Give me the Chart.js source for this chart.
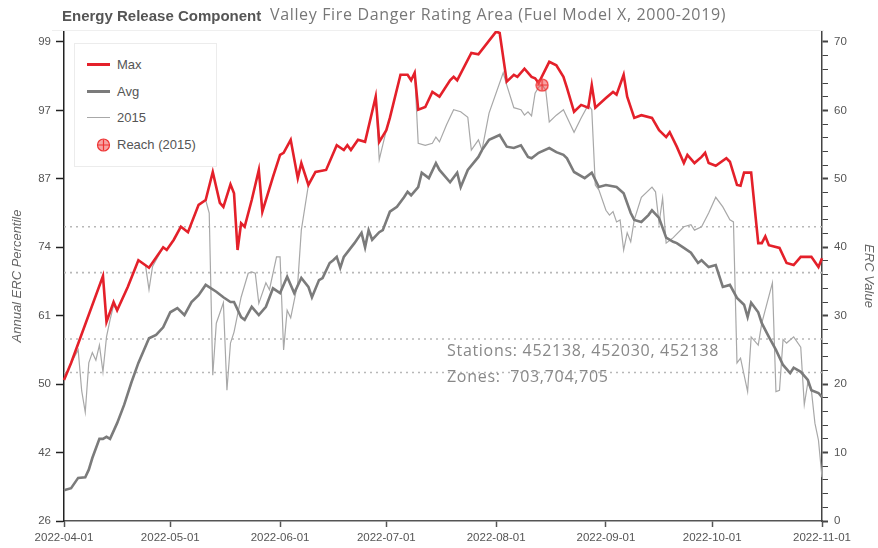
<!DOCTYPE html>
<html>
<head>
<meta charset="utf-8">
<title>Energy Release Component</title>
<script src="https://cdn.jsdelivr.net/npm/chart.js@4.4.1/dist/chart.umd.min.js"></script>
<style>
  html, body { margin: 0; padding: 0; background: #fff; }
  #wrap { position: relative; width: 878px; height: 548px; font-family: "Liberation Sans", Arial, sans-serif; }
  #ercChart { position: absolute; left: 0; top: 0; }
  .title-main { position: absolute; left: 62px; top: 7px; font-size: 15px; font-weight: bold; color: #555; white-space: nowrap; }
  .title-sub { position: absolute; left: 270px; top: 3px; font-family: "Open Sans", sans-serif; font-size: 16px; letter-spacing: 0.65px; color: #777; white-space: nowrap; }
  .top-rule { position: absolute; left: 52px; top: 30px; width: 772px; border-top: 1px solid #efefef; }
  .note { position: absolute; left: 447px; font-family: "Open Sans", sans-serif; font-size: 16px; letter-spacing: 0.7px; color: #888; white-space: nowrap; }
  .legend { position: absolute; left: 74px; top: 43px; width: 143px; height: 124px; background: #fff; border: 1px solid #ececec; box-sizing: border-box; }
  .legend .row { position: absolute; left: 12px; height: 16px; font-size: 13px; color: #555; line-height: 16px; }
  .legend .swatch { position: absolute; left: 0; top: 7px; width: 23px; }
  .legend .label { position: absolute; left: 30px; top: 0; white-space: nowrap; }
</style>
</head>
<body>
<div id="wrap">
  <canvas id="ercChart" width="878" height="548"></canvas>
  <div class="top-rule"></div>
  <div class="title-main">Energy Release Component</div>
  <div class="title-sub">Valley Fire Danger Rating Area (Fuel Model X, 2000-2019)</div>
  <div class="note" style="top:339px;">Stations: 452138, 452030, 452138</div>
  <div class="note" style="top:365px;">Zones:&nbsp; 703,704,705</div>
  <div class="legend">
    <div class="row" style="top:13px;"><span class="swatch" style="border-top:3px solid #e4202a;top:6px;"></span><span class="label">Max</span></div>
    <div class="row" style="top:40px;"><span class="swatch" style="border-top:3px solid #7b7b7b;top:6px;"></span><span class="label">Avg</span></div>
    <div class="row" style="top:66px;"><span class="swatch" style="border-top:1px solid #a8a8a8;top:7px;"></span><span class="label">2015</span></div>
    <div class="row" style="top:93px;">
      <svg class="swatch" style="top:1px;left:5px;" width="14" height="14" viewBox="0 0 14 14">
        <circle cx="7" cy="7" r="6" fill="rgba(240,90,90,0.55)" stroke="#e33" stroke-width="1.2"/>
        <path d="M7 1.5V12.5M1.5 7H12.5" stroke="#e33" stroke-width="1.2"/>
      </svg>
      <span class="label">Reach (2015)</span>
    </div>
  </div>
</div>
<script>
// x positions are days since 2022-04-01
const monthDays = [0, 30, 61, 91, 122, 153, 183, 214];
const monthLabels = ['2022-04-01', '2022-05-01', '2022-06-01', '2022-07-01', '2022-08-01', '2022-09-01', '2022-10-01', '2022-11-01'];

// left axis shows the percentile matching each ERC value tick
const percentileTicks = [0, 10, 20, 30, 40, 50, 60, 70];
const percentileLabels = ['26', '42', '50', '61', '74', '87', '97', '99'];

const maxDays = [0, 2, 11, 12, 14, 15, 18, 21, 24, 28, 29, 31, 33, 35, 38, 40, 42, 44, 45, 47, 48, 49, 50, 51, 53, 55, 56, 59, 61, 62,
  64, 66, 67, 69, 71, 74, 77, 79, 80, 81, 83, 85, 88, 89, 91, 92, 95, 97, 98, 99, 100, 102, 104, 106, 109, 110, 111, 115, 117, 122,
  123, 125, 127, 128, 130, 132, 133, 134, 137, 139, 141, 142, 144, 146, 148, 149, 150, 153, 155, 156, 158, 159, 161, 163, 166, 168, 170, 171, 173, 175,
  176, 178, 180, 181, 182, 184, 187, 188, 190, 191, 192, 194, 196, 197, 198, 199, 202, 204, 206, 208, 211, 213, 214];
const maxVals = [20.6, 23.1, 35.8, 29.1, 32.0, 30.8, 34.2, 38.1, 37.0, 40.0, 39.6, 41.1, 43.0, 42.2, 46.2, 46.9, 51.0, 46.5, 45.9, 49.2, 47.9, 39.6, 43.5, 43.0, 46.9, 51.3, 45.2, 50.3, 53.5, 53.8,
  55.7, 50.1, 52.3, 49.1, 51.0, 51.3, 54.9, 54.2, 54.9, 54.2, 55.7, 55.4, 62.0, 55.4, 57.1, 58.9, 65.2, 65.2, 64.4, 65.5, 60.1, 60.5, 62.7, 62.0, 64.4, 64.9, 64.4, 68.4, 68.2, 71.5,
  71.3, 64.2, 65.2, 64.9, 66.1, 64.9, 64.7, 64.0, 67.1, 66.6, 64.9, 63.3, 59.8, 60.8, 60.4, 63.7, 60.4, 61.8, 62.7, 62.3, 65.2, 62.0, 58.9, 59.3, 58.9, 57.1, 56.1, 56.8, 54.7, 52.3,
  53.5, 52.3, 53.2, 53.8, 52.3, 51.9, 53.0, 52.5, 49.1, 49.0, 50.9, 50.9, 40.6, 40.6, 41.6, 40.3, 39.9, 37.7, 37.4, 38.6, 38.6, 37.1, 38.4];

const avgDays = [0, 2, 4, 6, 7, 8, 10, 11, 12, 13, 15, 17, 19, 21, 24, 26, 28, 30, 32, 34, 36, 38, 40, 43, 45, 47, 48, 50, 51, 53,
  55, 57, 59, 61, 63, 65, 67, 69, 70, 72, 73, 75, 76, 77, 78, 79, 82, 84, 85, 86, 87, 89, 90, 92, 94, 96, 97, 98, 100, 101,
  103, 105, 106, 109, 111, 112, 114, 117, 118, 120, 123, 125, 127, 129, 131, 132, 134, 137, 139, 141, 142, 144, 147, 149, 151, 153, 156, 158, 160, 161,
  163, 165, 166, 168, 170, 172, 173, 175, 177, 179, 180, 182, 184, 186, 188, 190, 192, 193, 194, 196, 197, 199, 201, 203, 205, 206, 208, 210, 211, 213, 214];
const avgVals = [4.5, 4.8, 6.3, 6.4, 7.5, 9.2, 12.0, 12.0, 12.3, 12.0, 14.3, 17.0, 20.2, 23.1, 26.7, 27.2, 28.3, 30.5, 31.1, 30.1, 32.0, 33.0, 34.5, 33.5, 32.7, 32.0, 32.0, 29.8, 29.4, 31.3,
  30.1, 31.3, 34.0, 33.3, 35.7, 33.3, 35.5, 34.2, 32.7, 35.2, 35.5, 37.7, 38.1, 38.6, 37.0, 38.6, 40.6, 42.1, 40.0, 42.5, 41.1, 42.2, 42.5, 45.2, 45.9, 47.3, 48.1, 47.6, 48.8, 50.9,
  50.1, 52.3, 51.3, 49.5, 50.9, 48.8, 51.3, 53.2, 54.2, 55.7, 56.4, 54.7, 54.5, 54.9, 53.2, 53.0, 53.8, 54.5, 53.9, 53.5, 53.0, 51.0, 50.1, 50.9, 48.8, 49.1, 48.8, 47.9, 45.0, 44.0,
  43.7, 44.7, 45.4, 44.3, 41.4, 40.8, 40.6, 39.9, 39.2, 37.7, 38.1, 37.1, 37.4, 34.2, 34.5, 32.6, 31.6, 29.8, 31.9, 30.5, 28.9, 26.9, 25.0, 22.8, 21.6, 22.4, 21.8, 20.6, 19.1, 18.7, 18.1];

const y2015Days = [0, 2, 4, 5, 6, 7, 8, 9, 10, 11, 12, 13, 14, 15, 18, 21, 23, 24, 25, 28, 29, 31, 33, 35, 38, 40, 41, 42, 43, 45,
  46, 47, 48, 50, 52, 53, 54, 55, 57, 58, 60, 61, 62, 63, 64, 66, 67, 69, 71, 74, 77, 79, 80, 81, 83, 85, 88, 89, 91, 92,
  95, 97, 98, 99, 100, 102, 104, 105, 106, 108, 110, 112, 114, 115, 117, 118, 120, 124, 125, 127, 129, 130, 131, 132, 133, 134, 135, 136, 137, 139,
  141, 142, 144, 146, 148, 149, 150, 151, 153, 154, 155, 156, 157, 158, 159, 160, 161, 163, 166, 167, 168, 169, 170, 172, 175, 177, 178, 180, 182, 184,
  186, 188, 189, 190, 191, 193, 194, 196, 197, 200, 201, 202, 203, 204, 206, 208, 209, 210, 211, 212, 213, 214];
const y2015Vals = [20.6, 23.1, 25.0, 19.0, 15.9, 23.1, 24.6, 23.5, 25.7, 21.8, 26.9, 29.4, 31.5, 30.8, 34.2, 38.1, 37.4, 33.8, 37.2, 40.0, 39.6, 41.1, 43.0, 42.2, 46.2, 46.9, 45.0, 21.3, 28.9, 31.9,
  19.1, 26.0, 27.6, 32.7, 36.2, 36.4, 36.2, 31.8, 34.8, 33.8, 38.6, 38.6, 25.0, 30.8, 29.7, 34.8, 42.5, 49.1, 51.0, 51.3, 54.9, 54.2, 54.9, 54.2, 55.7, 55.4, 62.0, 52.8, 57.1, 58.9,
  65.2, 65.2, 64.4, 65.5, 55.2, 54.9, 55.2, 56.1, 55.4, 57.9, 60.1, 59.8, 59.0, 54.2, 55.7, 54.2, 59.6, 65.5, 63.7, 60.4, 60.1, 59.3, 59.8, 59.2, 62.5, 63.4, 63.7, 63.0, 58.3, 59.3,
  60.1, 59.0, 56.8, 58.9, 60.8, 60.1, 49.1, 48.4, 45.4, 44.7, 45.2, 43.7, 44.0, 39.6, 42.1, 40.8, 44.0, 47.3, 48.8, 48.1, 43.5, 47.2, 40.6, 41.4, 43.0, 43.3, 42.5, 43.0, 45.0, 47.3,
  45.9, 44.0, 43.7, 23.1, 23.8, 18.9, 26.9, 25.7, 28.9, 34.8, 18.9, 19.1, 26.5, 26.0, 26.9, 25.4, 17.0, 20.2, 19.1, 14.3, 11.8, 6.4];

const reachDays = [135];
const reachVals = [63.7];

// dotted reference levels (ERC value)
const thresholdVals = [43.0, 36.3, 26.6, 21.7];

const pts = (days, vals) => days.map((d, i) => ({ x: d, y: vals[i] }));

function reachMarker() {
  const c = document.createElement('canvas');
  c.width = 14; c.height = 14;
  const g = c.getContext('2d');
  g.beginPath();
  g.arc(7, 7, 6, 0, Math.PI * 2);
  g.fillStyle = 'rgba(240,90,90,0.55)';
  g.fill();
  g.strokeStyle = '#e33';
  g.lineWidth = 1.2;
  g.stroke();
  g.beginPath();
  g.moveTo(7, 1.5); g.lineTo(7, 12.5);
  g.moveTo(1.5, 7); g.lineTo(12.5, 7);
  g.stroke();
  return c;
}

const lineBase = { pointRadius: 0, tension: 0, fill: false, yAxisID: 'y', clip: 4 };

const datasets = [
  { label: 'Reach (2015)', data: pts(reachDays, reachVals), type: 'line', showLine: false, pointRadius: 7, pointStyle: reachMarker(), yAxisID: 'y' },
  { ...lineBase, label: 'Max', data: pts(maxDays, maxVals), borderColor: '#e4202a', borderWidth: 2.6 },
  { ...lineBase, label: 'Avg', data: pts(avgDays, avgVals), borderColor: '#7b7b7b', borderWidth: 2.6 },
  { ...lineBase, label: '2015', data: pts(y2015Days, y2015Vals), borderColor: '#a8a8a8', borderWidth: 1.2 }
];
thresholdVals.forEach(v => {
  datasets.push({ ...lineBase, label: 'level', data: [{ x: 0, y: v }, { x: 214, y: v }], borderColor: '#b8b8b8', borderWidth: 1.6, borderDash: [2, 4] });
});

const tickFont = { family: '"Liberation Sans", Arial, sans-serif', size: 11.5 };

new Chart(document.getElementById('ercChart'), {
  type: 'line',
  data: { datasets },
  options: {
    responsive: false,
    animation: false,
    layout: { padding: { top: 31, left: 0, right: 0, bottom: 0 } },
    plugins: { legend: { display: false }, tooltip: { enabled: false } },
    scales: {
      x: {
        type: 'linear',
        min: 0,
        max: 214,
        afterBuildTicks: s => { s.ticks = monthDays.map(v => ({ value: v })); },
        afterFit: s => { s.height = 27; },
        ticks: {
          autoSkip: false, maxRotation: 0, padding: 4, color: '#555', font: tickFont,
          callback: v => monthLabels[monthDays.indexOf(v)] || ''
        },
        grid: { drawOnChartArea: false, tickLength: 6, color: '#555', tickWidth: 1.5 },
        border: { color: '#555', width: 1.5 }
      },
      y: {
        type: 'linear',
        position: 'right',
        min: 0,
        max: 71.6,
        afterBuildTicks: s => {
          const t = [];
          for (let v = 0; v <= 70; v += 2) t.push({ value: v });
          s.ticks = t;
        },
        afterFit: s => { s.width = 56; },
        ticks: {
          autoSkip: false, padding: 6, color: '#555', font: tickFont,
          callback: v => (v % 10 === 0 ? String(v) : '')
        },
        grid: {
          drawOnChartArea: false, tickLength: 6, color: '#444',
          tickWidth: c => (c.tick && c.tick.value % 10 === 0 ? 2 : 1)
        },
        border: { color: '#444', width: 1.5 },
        title: {
          display: true, text: 'ERC Value', color: '#666', padding: { top: 2, bottom: 0 },
          font: { family: '"Liberation Sans", Arial, sans-serif', size: 13, style: 'italic' }
        }
      },
      yL: {
        type: 'linear',
        position: 'left',
        min: 0,
        max: 71.6,
        afterBuildTicks: s => { s.ticks = percentileTicks.map(v => ({ value: v })); },
        afterFit: s => { s.width = 64; },
        ticks: {
          autoSkip: false, padding: 5, color: '#555', font: tickFont,
          callback: v => percentileLabels[percentileTicks.indexOf(v)] || ''
        },
        grid: { drawOnChartArea: false, tickLength: 8, color: '#222', tickWidth: 1.5 },
        border: { color: '#222', width: 1.5 },
        title: {
          display: true, text: 'Annual ERC Percentile', color: '#666', padding: { top: 10, bottom: 0 },
          font: { family: '"Liberation Sans", Arial, sans-serif', size: 13, style: 'italic' }
        }
      }
    }
  }
});
</script>
</body>
</html>
